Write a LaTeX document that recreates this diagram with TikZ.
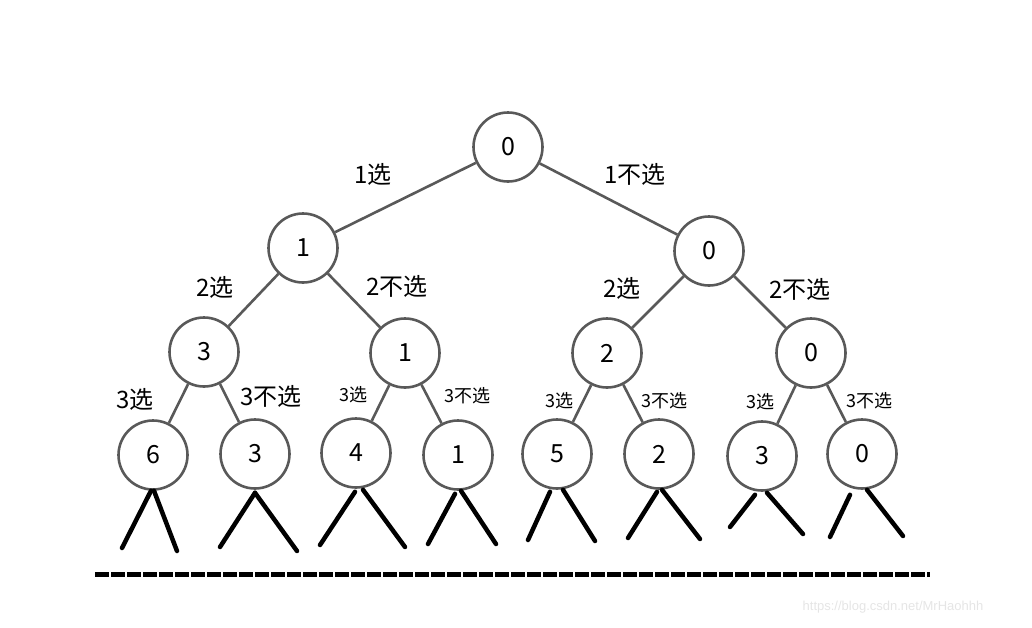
\documentclass[tikz,border=0pt]{standalone}
\usepackage{fontspec}
\setmainfont{Noto Sans CJK SC}
\begin{document}
\begin{tikzpicture}[x=1pt,y=-1pt,
  nd/.style={circle,draw=black!65,line width=2.6pt,minimum size=69pt,inner sep=0pt,fill=white,font=\fontsize{25}{30}\selectfont},
  edge/.style={draw=black!65,line width=2.6pt},
  big/.style={font=\fontsize{24}{28}\selectfont,inner sep=0pt},
  small/.style={font=\fontsize{18}{22}\selectfont,inner sep=0pt},
  stub/.style={line width=4.5pt,line cap=round}]
\useasboundingbox (0,0) rectangle (1032,627);
% nodes
\node[nd] (r) at (508,147) {0};
\node[nd] (a) at (303,248) {1};
\node[nd] (b) at (709,251) {0};
\node[nd] (aa) at (204,352) {3};
\node[nd] (ab) at (405,353) {1};
\node[nd] (ba) at (607,353) {2};
\node[nd] (bb) at (811,353) {0};
\node[nd] (l1) at (153,455) {6};
\node[nd] (l2) at (255,454) {3};
\node[nd] (l3) at (356,453) {4};
\node[nd] (l4) at (458,455) {1};
\node[nd] (l5) at (557,454) {5};
\node[nd] (l6) at (659,454) {2};
\node[nd] (l7) at (762,456) {3};
\node[nd] (l8) at (862,454) {0};
% edges
\draw[edge] (r) -- (a);
\draw[edge] (r) -- (b);
\draw[edge] (a) -- (aa);
\draw[edge] (a) -- (ab);
\draw[edge] (b) -- (ba);
\draw[edge] (b) -- (bb);
\draw[edge] (aa) -- (l1);
\draw[edge] (aa) -- (l2);
\draw[edge] (ab) -- (l3);
\draw[edge] (ab) -- (l4);
\draw[edge] (ba) -- (l5);
\draw[edge] (ba) -- (l6);
\draw[edge] (bb) -- (l7);
\draw[edge] (bb) -- (l8);
% labels
\node[big] (t1) at (373,174) {1选};
\node[big] (t2) at (635,174) {1不选};
\node[big] (t3) at (215,287) {2选};
\node[big] (t4) at (397,286) {2不选};
\node[big] (t5) at (622,288) {2选};
\node[big] (t6) at (800,289) {2不选};
\node[big] (t7) at (135,399) {3选};
\node[big] (t8) at (271,396) {3不选};
\node[small] (t9) at (353,395) {3选};
\node[small] (t10) at (467,396) {3不选};
\node[small] (t11) at (559,401) {3选};
\node[small] (t12) at (664,401) {3不选};
\node[small] (t13) at (760,402) {3选};
\node[small] (t14) at (869,401) {3不选};
% stubs
\coordinate (s1a) at (122,548); \coordinate (s1b) at (177,551);
\coordinate (s2a) at (220,547); \coordinate (s2b) at (297,551);
\coordinate (s3a) at (320,545); \coordinate (s3b) at (405,547);
\coordinate (s4a) at (428,544); \coordinate (s4b) at (496,544);
\coordinate (s5a) at (528,540); \coordinate (s5b) at (595,541);
\coordinate (s6a) at (628,538); \coordinate (s6b) at (700,539);
\coordinate (s7a) at (730,527); \coordinate (s7b) at (803,534);
\coordinate (s8a) at (830,537); \coordinate (s8b) at (903,536);
\draw[stub] ([xshift=-2pt]l1.south) -- (s1a);
\draw[stub] ([xshift=1pt]l1.south) -- (s1b);
\draw[stub] ([yshift=-3pt]l2.south) -- (s2a);
\draw[stub] ([yshift=-3pt]l2.south) -- (s2b);
\draw[stub] ([xshift=-1pt,yshift=-3pt]l3.south) -- (s3a);
\draw[stub] ([xshift=7pt,yshift=-1pt]l3.south) -- (s3b);
\draw[stub] ([xshift=-3pt,yshift=-3pt]l4.south) -- (s4a);
\draw[stub] ([xshift=3pt]l4.south) -- (s4b);
\draw[stub] ([xshift=-7pt,yshift=-2pt]l5.south) -- (s5a);
\draw[stub] ([xshift=6pt]l5.south) -- (s5b);
\draw[stub] ([xshift=-2pt,yshift=-2pt]l6.south) -- (s6a);
\draw[stub] ([xshift=3pt]l6.south) -- (s6b);
\draw[stub] ([xshift=-7pt,yshift=-3pt]l7.south) -- (s7a);
\draw[stub] ([xshift=5pt,yshift=-1pt]l7.south) -- (s7b);
\draw[stub] ([xshift=-12pt,yshift=-5pt]l8.south) -- (s8a);
\draw[stub] ([xshift=5pt]l8.south) -- (s8b);
% dashed baseline
\coordinate (d0) at (95,574); \coordinate (d1) at (930,574);
\draw[line width=5pt,dash pattern=on 14pt off 2pt] (d0) -- (d1);
% watermark
\node[font=\fontsize{13}{15}\selectfont,text=black!10,inner sep=0pt] (wm) at (893,607) {\fontspec{Liberation Sans}https://blog.csdn.net/MrHaohhh};
\end{tikzpicture}
\end{document}
